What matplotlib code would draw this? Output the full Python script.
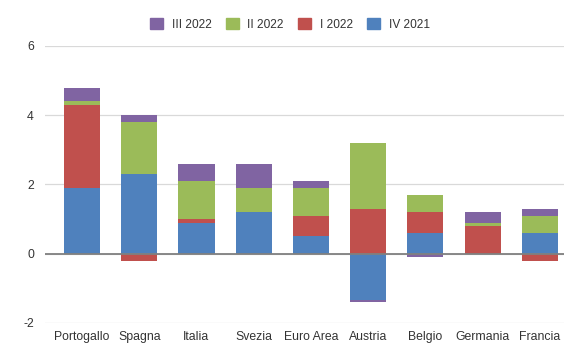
import numpy as np
import matplotlib.pyplot as plt
from matplotlib.patches import Patch

plt.rcParams['font.family'] = ['Liberation Sans', 'DejaVu Sans']
plt.rcParams['axes.unicode_minus'] = False

paesi = ['Portogallo', 'Spagna', 'Italia', 'Svezia', 'Euro Area',
         'Austria', 'Belgio', 'Germania', 'Francia']
iv_2021 = [1.9, 2.3, 0.9, 1.2, 0.5, -1.35, 0.6, 0.0, 0.6]
i_2022 = [2.4, -0.2, 0.1, 0.0, 0.6, 1.3, 0.6, 0.8, -0.2]
ii_2022 = [0.1, 1.5, 1.1, 0.7, 0.8, 1.9, 0.5, 0.1, 0.5]
iii_2022 = [0.4, 0.2, 0.5, 0.7, 0.2, -0.05, -0.1, 0.3, 0.2]

serie = [('IV 2021', iv_2021, '#4F81BD'),
         ('I 2022', i_2022, '#C0504D'),
         ('II 2022', ii_2022, '#9BBB59'),
         ('III 2022', iii_2022, '#8064A2')]

fig = plt.figure(figsize=(5.8, 3.59), dpi=100)
ax = fig.add_axes([0.0776, 0.1003, 0.8948, 0.7717])

x = np.arange(len(paesi))
pos = np.zeros(len(paesi))
neg = np.zeros(len(paesi))
for nome, vals, col in serie:
    v = np.array(vals)
    bottom = np.where(v >= 0, pos, neg)
    ax.bar(x, v, 0.63, bottom=bottom, color=col, zorder=3)
    pos = pos + np.clip(v, 0, None)
    neg = neg + np.clip(v, None, 0)

ax.set_ylim(-2, 6)
ax.set_yticks([-2, 0, 2, 4, 6])
ax.set_xlim(-0.646, 8.42)
ax.set_xticks(x)
ax.set_xticklabels(paesi)
ax.grid(axis='y', color='#d9d9d9', lw=0.9, zorder=0)
ax.axhline(0, color='#808080', lw=1.3, zorder=4)
for s in ax.spines.values():
    s.set_visible(False)
ax.tick_params(length=0, labelsize=8.8, colors='#333333', pad=6)
ax.tick_params(axis='y', pad=8)

handles = [Patch(color=col, label=nome) for nome, vals, col in serie[::-1]]
fig.legend(handles=handles, loc='center', bbox_to_anchor=(0.5, 0.932), ncol=4,
           frameon=False, fontsize=8.6, handlelength=1.1, handleheight=1.1,
           columnspacing=1.2, handletextpad=0.7, labelcolor='#333333')

fig.savefig('out.png', dpi=100)
